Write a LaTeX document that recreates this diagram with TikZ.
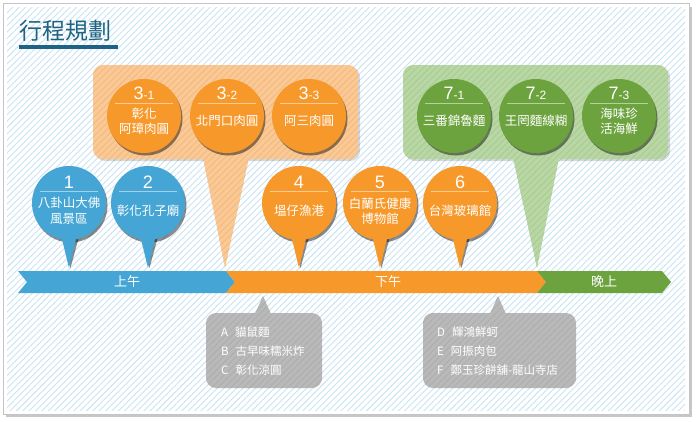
\documentclass[tikz,border=0pt]{standalone}
\usepackage{fontspec}
\setmainfont{Noto Sans CJK TC}
\newfontfamily\numfont{Liberation Sans}
\usetikzlibrary{patterns.meta}

\definecolor{hatchblue}{HTML}{C9E4F2}
\definecolor{framegray}{HTML}{C4C4C4}
\definecolor{titleblue}{HTML}{1E6383}
\definecolor{morning}{HTML}{45A5D4}
\definecolor{afternoon}{HTML}{F7982A}
\definecolor{evening}{HTML}{6CA33E}
\definecolor{foodorange}{HTML}{FAC996}
\definecolor{stripeorange}{HTML}{F3B97E}
\definecolor{foodgreen}{HTML}{B9D7A5}
\definecolor{stripegreen}{HTML}{A7CB90}
\definecolor{snackgray}{HTML}{B9B9B9}
\definecolor{stripegray}{HTML}{ADADAD}

\begin{document}
\begin{tikzpicture}[
    x=1pt, y=-1pt,
    hatch/.style={
        pattern={Lines[angle=45,distance=4.5pt,line width=0.9pt]},
        pattern color=#1
    },
    shade/.style={
        fill=black,
        opacity=0.45
    },
    stopnum/.style={
        text=white,
        inner sep=0pt,
        font=\numfont\fontsize{18}{20}\selectfont
    },
    stoptext/.style={
        text=white,
        inner sep=0pt,
        align=center,
        font=\fontsize{12.5}{15.5}\selectfont
    },
    snacktext/.style={
        text=white,
        inner sep=0pt,
        anchor=west,
        font=\fontsize{11.5}{13}\selectfont
    },
    bartext/.style={
        text=white,
        inner sep=0pt,
        font=\fontsize{13}{15}\selectfont
    },
    divider/.style={
        white,
        opacity=0.5,
        line width=0.7pt
    }
]
\useasboundingbox (0,0) rectangle (696,421);

% Vertical positions of pins and food circles
\def\PinY{203}
\def\CircY{116}

% ==================================================
% Frame and background
% ==================================================

\fill[black!22] (6,7) rectangle (692,417);
\draw[framegray, fill=white] (3,3) rectangle (689,414);
\fill[hatch=hatchblue] (7,7) rectangle (685,410);

\node[anchor=west, inner sep=0pt, text=titleblue,
      font=\fontsize{23}{25}\selectfont] (title) at (19,31) {行程規劃};
\fill[titleblue] (19,45) rectangle (118,48.5);

% ==================================================
% Food callouts above the timeline
% ==================================================

% lunch callout (orange), points at the noon boundary
\fill[black, opacity=0.15, rounded corners=10pt] (95,67) rectangle (360,161);
\path[fill=foodorange, rounded corners=10pt, postaction={hatch=stripeorange}]
    (93,65) rectangle (358,159);
\path[fill=foodorange, postaction={hatch=stripeorange}]
    (203,158) -- (225,268) -- (249,158) -- cycle;

% dinner callout (green), points at the evening boundary
\fill[black, opacity=0.15, rounded corners=10pt] (405,67) rectangle (670,161);
\path[fill=foodgreen, rounded corners=10pt, postaction={hatch=stripegreen}]
    (403,65) rectangle (668,159);
\path[fill=foodgreen, postaction={hatch=stripegreen}]
    (513,158) -- (537,268) -- (559,158) -- cycle;

% food circles
\foreach \x/\c in {144/afternoon, 227/afternoon, 309/afternoon,
                   454/evening, 536/evening, 619/evening} {
    \fill[shade] (\x+1.5,\CircY+2.5) circle[radius=37];
    \fill[\c] (\x,\CircY) circle[radius=37];
    \draw[divider] (\x-29,\CircY-13) -- (\x+29,\CircY-13);
}

% ==================================================
% Sight pins
% ==================================================

\foreach \x/\c in {69/morning, 148/morning,
                   299/afternoon, 380/afternoon, 460/afternoon} {
    \fill[shade] (\x-6,\PinY+30) -- (\x+1.5,268) -- (\x+11,\PinY+30) -- cycle;
    \fill[shade] (\x+1.5,\PinY+2.5) circle[radius=37];
    \fill[\c] (\x-9,\PinY+28) -- (\x,268) -- (\x+9,\PinY+28) -- cycle;
    \fill[\c] (\x,\PinY) circle[radius=37];
    \draw[divider] (\x-29,\PinY-12) -- (\x+29,\PinY-12);
}

% ==================================================
% Timeline
% ==================================================

\fill[morning]   (18,271) -- (226,271) -- (235,282) -- (226,293)
                 -- (18,293) -- (27,282) -- cycle;
\fill[afternoon] (226,271) -- (537,271) -- (546,282) -- (537,293)
                 -- (226,293) -- (235,282) -- cycle;
\fill[evening]   (537,271) -- (662,271) -- (671,282) -- (662,293)
                 -- (537,293) -- (546,282) -- cycle;

\node[bartext] (am) at (127,282) {上午};
\node[bartext] (pm) at (388,282) {下午};
\node[bartext] (night) at (604,282) {晚上};

% ==================================================
% Snack callouts below the timeline
% ==================================================

\path[fill=snackgray, rounded corners=10pt, postaction={hatch=stripegray}]
    (206,313) rectangle (322,388);
\path[fill=snackgray, postaction={hatch=stripegray}]
    (255,314) -- (263,296) -- (271,314) -- cycle;

\path[fill=snackgray, rounded corners=10pt, postaction={hatch=stripegray}]
    (423,313) rectangle (576,388);
\path[fill=snackgray, postaction={hatch=stripegray}]
    (490,314) -- (498,296) -- (506,314) -- cycle;

\node[snacktext] (snackA) at (221,332) {A\hspace{7pt}貓鼠麵};
\node[snacktext] (snackB) at (221,351) {B\hspace{7pt}古早味糯米炸};
\node[snacktext] (snackC) at (221,370) {C\hspace{7pt}彰化涼圓};

\node[snacktext] (snackD) at (437,332) {D\hspace{7pt}輝鴻鮮蚵};
\node[snacktext] (snackE) at (437,351) {E\hspace{7pt}阿振肉包};
\node[snacktext] (snackF) at (437,370) {F\hspace{7pt}鄭玉珍餅舖-龍山寺店};

% ==================================================
% Pin texts
% ==================================================

\node[stopnum] (num1) at (69,\PinY-21) {1};
\node[stoptext] (stop1) at (69,\PinY+8) {八卦山大佛\\風景區};

\node[stopnum] (num2) at (148,\PinY-21) {2};
\node[stoptext] (stop2) at (148,\PinY+8) {彰化孔子廟};

\node[stopnum] (num4) at (299,\PinY-21) {4};
\node[stoptext] (stop4) at (299,\PinY+8) {塭仔漁港};

\node[stopnum] (num5) at (380,\PinY-21) {5};
\node[stoptext] (stop5) at (380,\PinY+8) {白蘭氏健康\\博物館};

\node[stopnum] (num6) at (460,\PinY-21) {6};
\node[stoptext] (stop6) at (460,\PinY+8) {台灣玻璃館};

% ==================================================
% Food circle texts
% ==================================================

\node[stopnum] (num31) at (144,\CircY-23)
    {3{\fontsize{12}{12}\selectfont -1}};
\node[stoptext] (food31) at (144,\CircY+5) {彰化\\阿璋肉圓};

\node[stopnum] (num32) at (227,\CircY-23)
    {3{\fontsize{12}{12}\selectfont -2}};
\node[stoptext] (food32) at (227,\CircY+5) {北門口肉圓};

\node[stopnum] (num33) at (309,\CircY-23)
    {3{\fontsize{12}{12}\selectfont -3}};
\node[stoptext] (food33) at (309,\CircY+5) {阿三肉圓};

\node[stopnum] (num71) at (454,\CircY-23)
    {7{\fontsize{12}{12}\selectfont -1}};
\node[stoptext] (food71) at (454,\CircY+5) {三番錦魯麵};

\node[stopnum] (num72) at (536,\CircY-23)
    {7{\fontsize{12}{12}\selectfont -2}};
\node[stoptext] (food72) at (536,\CircY+5) {王罔麵線糊};

\node[stopnum] (num73) at (619,\CircY-23)
    {7{\fontsize{12}{12}\selectfont -3}};
\node[stoptext] (food73) at (619,\CircY+5) {海味珍\\活海鮮};

\end{tikzpicture}
\end{document}
